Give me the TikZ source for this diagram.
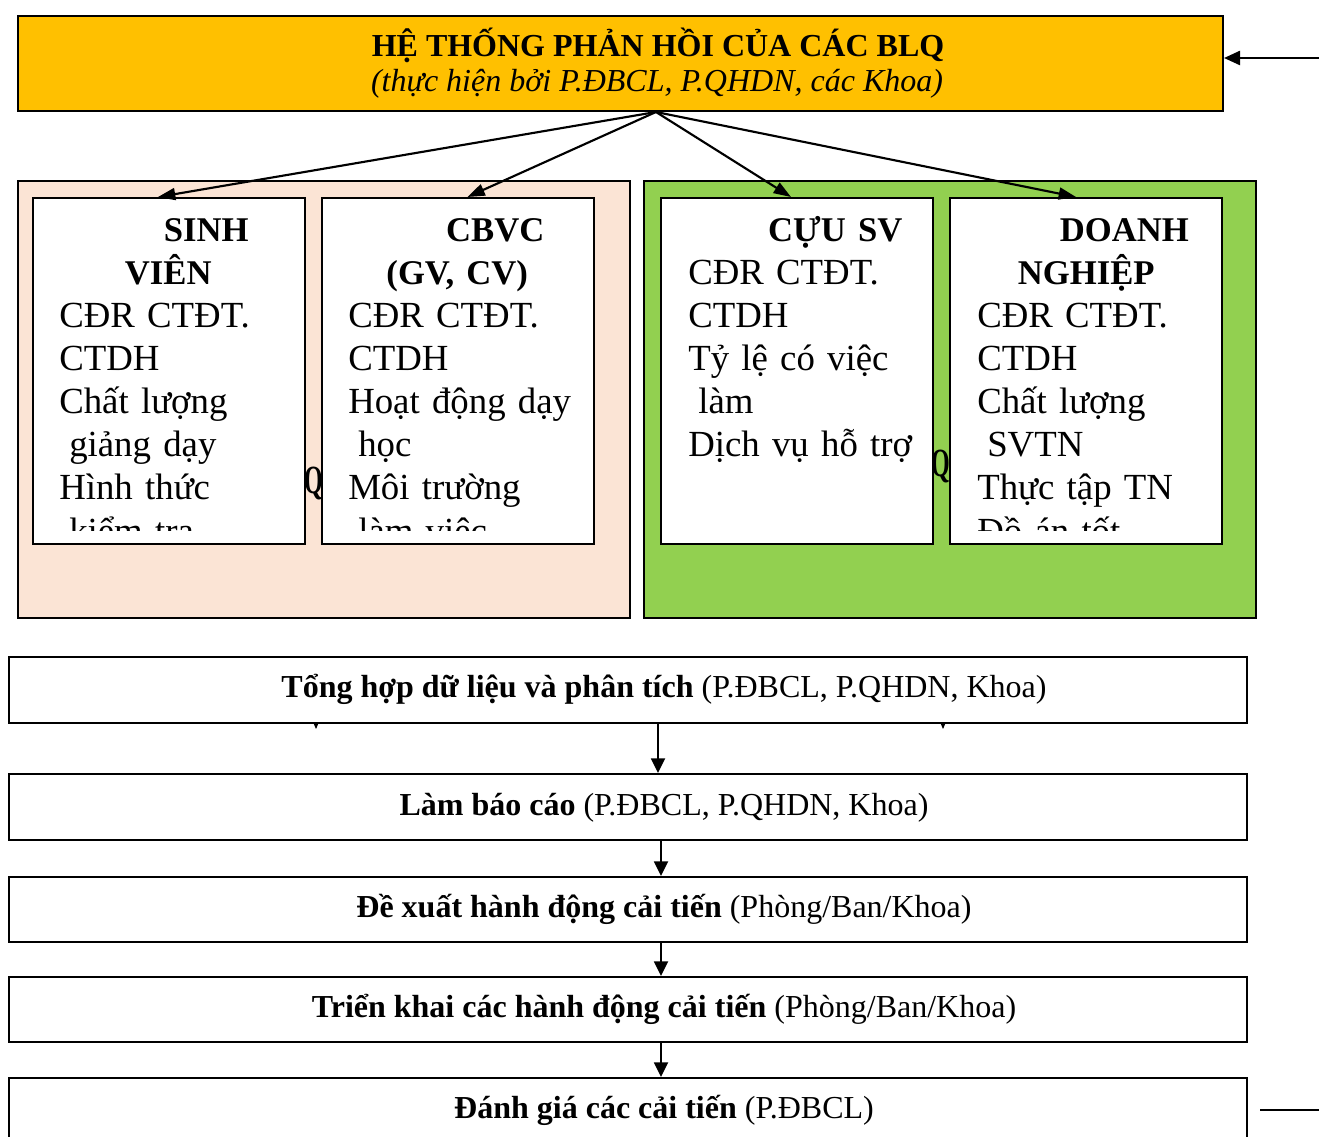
\documentclass[tikz,border=0pt]{standalone}
\usepackage{fontspec}
\setmainfont{Liberation Serif}
\usetikzlibrary{arrows.meta}
\definecolor{gold}{HTML}{FFC000}
\definecolor{peach}{HTML}{FBE4D5}
\definecolor{leaf}{HTML}{92D050}
% heading line of a card: centred, optionally pushed right by an indent
\newcommand\cardhead[2]{\makebox[204pt][c]{\hspace*{#1}\textbf{\fontsize{26}{32.25}\selectfont #2}}}
\newcommand\cardline[1]{\hspace*{20.25pt}#1}
\newcommand\cardwrap[1]{\hspace*{27.75pt}#1}
\begin{document}
\begin{tikzpicture}[x=0.75pt,y=-0.75pt,
  frame/.style={draw=black, line width=1.5pt, rectangle, inner sep=0pt, anchor=north west},
  panel/.style={frame, minimum width=459pt, minimum height=327.75pt},
  card/.style={frame, fill=white, minimum width=204pt, minimum height=259.5pt},
  stage/.style={frame, fill=white, minimum width=928.5pt},
  cardtext/.style={anchor=base west, inner sep=0pt, text width=204pt, align=left,
    font=\fontsize{27.6}{32.25}\selectfont},
  stagetext/.style={anchor=base, inner sep=0pt, font=\fontsize{24}{28}\selectfont},
  stray/.style={anchor=base west, inner sep=0pt, font=\fontsize{30}{32}\selectfont\bfseries},
  fan/.style={line width=1.6pt, -{Triangle[length=13pt,width=9pt]}},
  flow/.style={line width=1.4pt, -{Triangle[length=11pt,width=10.5pt]}},
]
\useasboundingbox (0,0) rectangle (1319,1137);
\clip (0,0) rectangle (1319,1137);

% feedback system header
\node[frame, fill=gold, minimum width=903.75pt, minimum height=71.25pt] (top) at (17,15) {};
\node[anchor=base, inner sep=0pt, font=\fontsize{24}{26}\selectfont\bfseries] (title) at (658,57)
  {HỆ THỐNG PHẢN HỒI CỦA CÁC BLQ};
\node[anchor=base, inner sep=0pt, font=\fontsize{24}{26}\selectfont\itshape] (subtitle) at (657,92)
  {(thực hiện bởi P.ĐBCL, P.QHDN, các Khoa)};

% stakeholder groups
\node[panel, fill=peach] (inner) at (17,180) {};
\node[panel, fill=leaf] (outer) at (643,180) {};

\node[stray] (q1) at (304,493) {\scalebox{0.6}[1]{Q}};
\node[stray] (q2) at (931,476) {\scalebox{0.6}[1]{Q}};

\node[card] (sv) at (32,197) {};
\node[card] (cb) at (321,197) {};
\node[card] (cu) at (660,197) {};
\node[card] (dn) at (949,197) {};

\begin{scope}
  \clip (32,197) rectangle (304,530);
  \node[cardtext] (svt) at (32,242) {%
    \cardhead{57pt}{SINH}\\
    \cardhead{0pt}{VIÊN}\\
    \cardline{CĐR CTĐT.}\\
    \cardline{CTDH}\\
    \cardline{Chất lượng}\\
    \cardwrap{giảng dạy}\\
    \cardline{Hình thức}\\
    \cardwrap{kiểm tra}};
\end{scope}
\begin{scope}
  \clip (321,197) rectangle (594,530);
  \node[cardtext] (cbt) at (321,242) {%
    \cardhead{57pt}{CBVC}\\
    \cardhead{0pt}{(GV, CV)}\\
    \cardline{CĐR CTĐT.}\\
    \cardline{CTDH}\\
    \cardline{Hoạt động dạy}\\
    \cardwrap{học}\\
    \cardline{Môi trường}\\
    \cardwrap{làm việc}};
\end{scope}
\begin{scope}
  \clip (660,197) rectangle (932,530);
  \node[cardtext] (cut) at (661,242) {%
    \cardhead{57pt}{CỰU SV}\\
    \cardline{CĐR CTĐT.}\\
    \cardline{CTDH}\\
    \cardline{Tỷ lệ có việc}\\
    \cardwrap{làm}\\
    \cardline{Dịch vụ hỗ trợ}};
\end{scope}
\begin{scope}
  \clip (949,197) rectangle (1221,530);
  \node[cardtext] (dnt) at (950,242) {%
    \cardhead{57pt}{DOANH}\\
    \cardhead{0pt}{NGHIỆP}\\
    \cardline{CĐR CTĐT.}\\
    \cardline{CTDH}\\
    \cardline{Chất lượng}\\
    \cardwrap{SVTN}\\
    \cardline{Thực tập TN}\\
    \cardline{Đồ án tốt}};
\end{scope}

% arrows fanning out from the header
\coordinate (hub) at ([xshift=26.6pt]top.south);
\draw[fan] (hub) -- ([xshift=-8.25pt]sv.north);
\draw[fan] (hub) -- ([xshift=7.1pt]cb.north);
\draw[fan] (hub) -- ([xshift=-4.5pt]cu.north);
\draw[fan] (hub) -- ([xshift=-7.5pt]dn.north);

% loop back into the header
\coordinate (in) at (1319,58);
\draw[line width=1.8pt, -{Triangle[length=12pt,width=10.5pt]}] (in) -- (in -| top.east);

% arrow tips peeking out below the first stage
\coordinate (tipa) at (316,729);
\coordinate (tipb) at (943,729);
\draw[line width=0.8pt, -{Triangle[length=6pt,width=5pt]}] ([yshift=12pt]tipa) -- (tipa);
\draw[line width=0.8pt, -{Triangle[length=6pt,width=5pt]}] ([yshift=12pt]tipb) -- (tipb);

% processing stages
\node[stage, minimum height=49.5pt] (s1) at (8,656) {};
\node[stage, minimum height=49.5pt] (s2) at (8,773) {};
\node[stage, minimum height=48.75pt] (s3) at (8,876) {};
\node[stage, minimum height=48.75pt] (s4) at (8,976) {};
\node[stage, minimum height=54.75pt] (s5) at (8,1077) {};

\node[stagetext] (s1t) at (664,697) {\textbf{Tổng hợp dữ liệu và phân tích} (P.ĐBCL, P.QHDN, Khoa)};
\node[stagetext] (s2t) at (664,815) {\textbf{Làm báo cáo} (P.ĐBCL, P.QHDN, Khoa)};
\node[stagetext] (s3t) at (664,917) {\textbf{Đề xuất hành động cải tiến} (Phòng/Ban/Khoa)};
\node[stagetext] (s4t) at (664,1017) {\textbf{Triển khai các hành động cải tiến} (Phòng/Ban/Khoa)};
\node[stagetext] (s5t) at (664,1118) {\textbf{Đánh giá các cải tiến} (P.ĐBCL)};

\draw[flow] ([xshift=22.5pt]s1.south) -- ([xshift=22.5pt]s2.north);
\draw[flow] ([xshift=24.75pt]s2.south) -- ([xshift=24.75pt]s3.north);
\draw[flow] ([xshift=24.75pt]s3.south) -- ([xshift=24.75pt]s4.north);
\draw[flow] ([xshift=24.75pt]s4.south) -- ([xshift=24.75pt]s5.north);

% line leaving the last stage
\coordinate (out) at (1319,1110);
\draw[line width=1.8pt] ([xshift=9pt]s5.east |- out) -- (out);
\end{tikzpicture}
\end{document}
